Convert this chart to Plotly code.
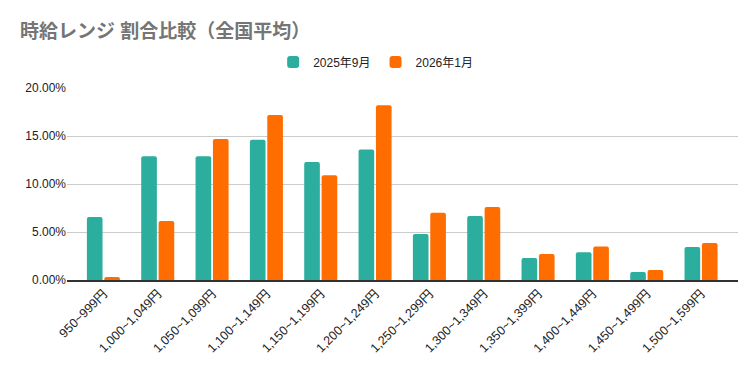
import plotly.graph_objects as go

categories = ["950~999円", "1,000~1,049円", "1,050~1,099円", "1,100~1,149円", "1,150~1,199円",
              "1,200~1,249円", "1,250~1,299円", "1,300~1,349円", "1,350~1,399円", "1,400~1,449円",
              "1,450~1,499円", "1,500~1,599円"]
sep2025 = [0.0656, 0.129, 0.129, 0.146, 0.123, 0.136, 0.048, 0.0667, 0.023, 0.029, 0.0083, 0.0344]
jan2026 = [0.0031, 0.0615, 0.147, 0.172, 0.109, 0.182, 0.070, 0.076, 0.027, 0.035, 0.0104, 0.0385]

font = "Arial, 'Liberation Sans', 'Noto Sans CJK JP', sans-serif"

fig = go.Figure()
fig.add_trace(go.Bar(name="2025年9月", x=categories, y=sep2025, marker_color="#2BAE9D", marker_line_width=0))
fig.add_trace(go.Bar(name="2026年1月", x=categories, y=jan2026, marker_color="#FF6D01", marker_line_width=0))

# page body has a default 8px margin, so the figure is drawn 8px right/down
fig.update_layout(
    width=748, height=363,
    margin=dict(l=59, r=18, t=80, b=91),
    paper_bgcolor="white", plot_bgcolor="white",
    font=dict(family=font, size=12, color="#222"),
    title=dict(text="<b>時給レンジ 割合比較（全国平均）</b>", x=0.016, xanchor="left", y=0.935, yanchor="middle",
               font=dict(family=font, size=19, color="#757575")),
    legend=dict(orientation="h", x=0.46, xanchor="center", y=1.135, yanchor="middle",
                font=dict(size=12, color="#222"), itemwidth=30),
    barmode="group", bargap=0.36, bargroupgap=0.1,
    barcornerradius=2,
)
fig.update_yaxes(range=[0, 0.2], dtick=0.05, tickformat=".2%", gridcolor="#cccccc",
                 zeroline=False, showline=False, ticks="", automargin=False,
                 tickfont=dict(size=12, color="#222"))
fig.update_xaxes(tickangle=-45, showline=True, linecolor="#333", linewidth=1.5, ticks="",
                 range=[-0.67, 11.68], automargin=False, tickfont=dict(size=12.5, color="#222"))

fig.write_html("out.html")
